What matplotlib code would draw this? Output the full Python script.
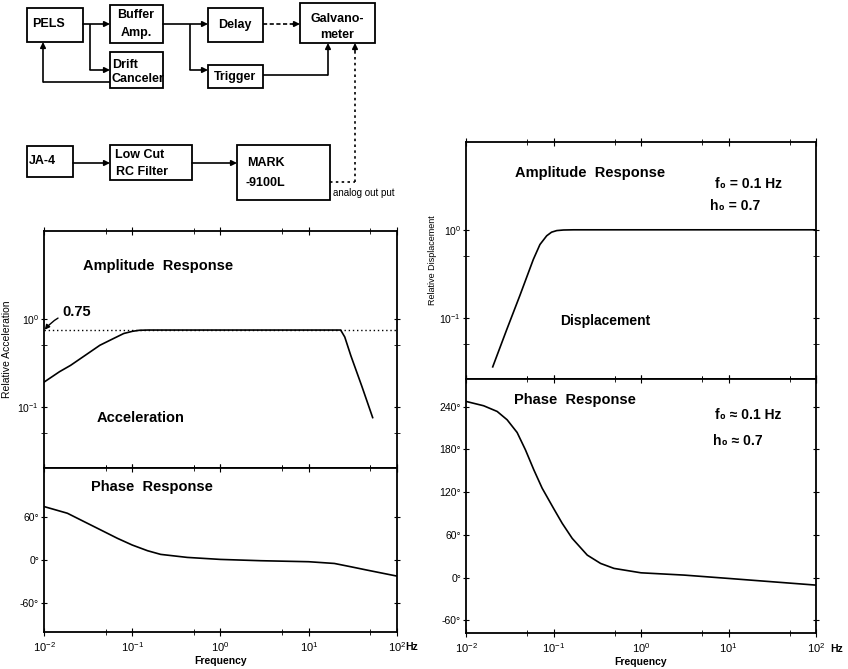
# Recording system block diagram + acceleration / displacement response curves

import numpy as np
import matplotlib.pyplot as plt
from matplotlib.patches import Rectangle
from matplotlib.ticker import LogLocator, NullFormatter, FixedLocator, FuncFormatter

plt.rcParams['font.family'] = ['Liberation Sans', 'DejaVu Sans']
plt.rcParams['mathtext.fontset'] = 'custom'
plt.rcParams['mathtext.rm'] = 'Liberation Sans'
plt.rcParams['mathtext.it'] = 'Liberation Sans:italic'
plt.rcParams['mathtext.bf'] = 'Liberation Sans:bold'

# acceleration channel (left)
freq_acc = [0.01, 0.015, 0.02, 0.03, 0.043, 0.06, 0.08, 0.1, 0.12, 0.15, 0.2, 1, 10,
            23, 25.6, 30, 40, 53]
amp_acc = [0.19, 0.25, 0.295, 0.39, 0.5, 0.59, 0.68, 0.72, 0.74, 0.745, 0.745, 0.745, 0.745,
           0.745, 0.62, 0.38, 0.17, 0.075]
ref_level = 0.75
freq_ph_acc = [0.01, 0.0184, 0.0284, 0.0439, 0.068, 0.1, 0.149, 0.21, 0.42, 1.0, 2.87,
               10, 19.5, 30, 46, 100]
phase_acc = [74.4, 65.1, 53.5, 41.9, 30.2, 20.9, 13.0, 7.9, 3.7, 0.9, -0.9,
             -2.3, -4.7, -9.3, -14, -22.3]

# displacement channel (right)
freq_disp = [0.0202, 0.0292, 0.0414, 0.0588, 0.070, 0.0836, 0.095, 0.109, 0.13, 0.169,
             1, 10, 100]
amp_disp = [0.0275, 0.073, 0.18, 0.46, 0.68, 0.855, 0.94, 0.98, 0.995, 1.0,
            1.0, 1.0, 1.0]
freq_ph_disp = [0.01, 0.0159, 0.0227, 0.0295, 0.0384, 0.0478, 0.0596, 0.0742, 0.1, 0.1257,
                0.1636, 0.243, 0.345, 0.491, 1.0, 3.1, 10, 100]
phase_disp = [247.5, 241.4, 233.4, 221.7, 203.8, 179.4, 151.3, 125.5, 97.3, 76.2,
              55, 31.5, 19.8, 12.8, 6.6, 3.4, -1.3, -10.7]

W, H = 848, 669
fig = plt.figure(figsize=(W / 100, H / 100), dpi=100)

def box_axes(x0, y0, x1, y1):
    # pixel box (image coords) -> figure axes
    return fig.add_axes([x0 / W, 1 - y1 / H, (x1 - x0) / W, (y1 - y0) / H])

def style_x(ax, labels):
    ax.set_xscale('log')
    ax.set_xlim(0.01, 100)
    ax.xaxis.set_major_locator(LogLocator(base=10, numticks=10))
    ax.xaxis.set_minor_locator(LogLocator(base=10, subs=[5], numticks=10))
    ax.xaxis.set_minor_formatter(NullFormatter())
    ax.tick_params(axis='x', which='both', direction='inout', top=True, bottom=True,
                   labelbottom=labels, labelsize=8, pad=3)
    ax.tick_params(axis='x', which='major', length=6)
    ax.tick_params(axis='x', which='minor', length=4)

def style_y(ax):
    ax.tick_params(axis='y', which='both', direction='inout', left=True, right=True,
                   labelsize=7.5, pad=1)
    ax.tick_params(axis='y', which='major', length=5)
    ax.tick_params(axis='y', which='minor', length=4)

def style_amp(ax):
    ax.set_yscale('log')
    ax.set_ylim(0.02, 10)
    ax.yaxis.set_major_locator(FixedLocator([0.1, 1]))
    ax.yaxis.set_minor_locator(FixedLocator([0.05, 0.5]))
    ax.yaxis.set_minor_formatter(NullFormatter())
    style_x(ax, False)
    style_y(ax)

deg = FuncFormatter(lambda v, p: f"{v:.0f}°")

# ---- left: acceleration
ax1 = box_axes(44, 231, 397, 468)
ax1.plot(freq_acc, amp_acc, color='k', lw=1.2)
ax1.axhline(ref_level, color='k', lw=1, ls=(0, (1, 2)))
style_amp(ax1)
ax1.set_ylabel('Relative Acceleration', fontsize=7.5, labelpad=2)
ax1.yaxis.set_label_coords(-0.092, 0.5)
ax1.text(0.028, 4.0, 'Amplitude  Response', fontsize=10.5, fontweight='bold', va='center')
ax1.text(0.04, 0.075, 'Acceleration', fontsize=10.5, fontweight='bold', va='center')
ax1.annotate('0.75', xy=(0.0102, 0.75), xytext=(0.016, 1.2), fontsize=10.5, fontweight='bold',
             va='center', ha='left',
             arrowprops=dict(arrowstyle='-|>', color='k', lw=1, mutation_scale=7,
                             shrinkA=1, shrinkB=0, connectionstyle='arc3,rad=0.2'))

ax2 = box_axes(44, 468, 397, 632)
ax2.plot(freq_ph_acc, phase_acc, color='k', lw=1.2)
ax2.set_ylim(-100, 128)
ax2.yaxis.set_major_locator(FixedLocator([-60, 0, 60]))
ax2.yaxis.set_major_formatter(deg)
style_x(ax2, True)
style_y(ax2)
ax2.text(0.034, 102, 'Phase  Response', fontsize=10.5, fontweight='bold', va='center')
ax2.set_xlabel('Frequency', fontsize=7.5, fontweight='bold', labelpad=1)
fig.text(405 / W, 1 - 647 / H, 'Hz', fontsize=7.5, fontweight='bold', va='center')

# ---- right: displacement
ax3 = box_axes(466, 142, 816, 379)
ax3.plot(freq_disp, amp_disp, color='k', lw=1.2)
style_amp(ax3)
ax3.set_ylabel('Relative Displacement', fontsize=6.5)
ax3.yaxis.set_label_coords(-0.083, 0.5)
ax3.text(0.036, 4.4, 'Amplitude  Response', fontsize=10.5, fontweight='bold', va='center')
ax3.text(7.0, 3.3, 'f₀ = 0.1 Hz', fontsize=10, fontweight='bold', va='center')
ax3.text(6.2, 1.85, 'h₀ = 0.7', fontsize=10, fontweight='bold', va='center')
ax3.text(0.12, 0.092, 'Displacement', fontsize=10, fontweight='bold', va='center')

ax4 = box_axes(466, 379, 816, 633)
ax4.plot(freq_ph_disp, phase_disp, color='k', lw=1.2)
ax4.set_ylim(-78, 279)
ax4.yaxis.set_major_locator(FixedLocator([-60, 0, 60, 120, 180, 240]))
ax4.yaxis.set_major_formatter(deg)
style_x(ax4, True)
style_y(ax4)
ax4.text(0.035, 249, 'Phase  Response', fontsize=10.5, fontweight='bold', va='center')
ax4.text(7.0, 228, 'f₀ ≈ 0.1 Hz', fontsize=10, fontweight='bold', va='center')
ax4.text(6.7, 192, 'h₀ ≈ 0.7', fontsize=10, fontweight='bold', va='center')
ax4.set_xlabel('Frequency', fontsize=7.5, fontweight='bold', labelpad=1)
fig.text(830 / W, 1 - 649 / H, 'Hz', fontsize=7.5, fontweight='bold', va='center')

for ax in (ax1, ax2, ax3, ax4):
    for s in ax.spines.values():
        s.set_linewidth(1.3)

# ---- block diagram, drawn in pixel coordinates
dg = fig.add_axes([0, 0, 1, 1], zorder=-1)
dg.set_xlim(0, W)
dg.set_ylim(H, 0)
dg.axis('off')

boxes = [
    (27, 8, 83, 42), (110, 5, 163, 43), (110, 52, 163, 88),
    (208, 8, 263, 42), (208, 65, 263, 88), (300, 3, 375, 43),
    (27, 146, 73, 177), (110, 145, 192, 180), (237, 145, 330, 200),
]
for x0, y0, x1, y1 in boxes:
    dg.add_patch(Rectangle((x0, y0), x1 - x0, y1 - y0, fill=False, ec='k', lw=1.3))

bt = dict(fontsize=9, fontweight='bold', va='center')
dg.text(32, 24, 'PELS', **bt)
dg.text(136, 15, 'Buffer', ha='center', **bt)
dg.text(136, 33, 'Amp.', ha='center', **bt)
dg.text(112, 65, 'Drift', **bt)
dg.text(112, 79, 'Canceler', **bt)
dg.text(235, 25, 'Delay', ha='center', **bt)
dg.text(235, 77, 'Trigger', ha='center', **bt)
dg.text(337, 19, 'Galvano-', ha='center', **bt)
dg.text(337, 35, 'meter', ha='center', **bt)
dg.text(29, 161, 'JA-4', **bt)
dg.text(115, 155, 'Low Cut', **bt)
dg.text(116, 172, 'RC Filter', **bt)
dg.text(247, 163, 'MARK', **bt)
dg.text(245, 183, '-9100L', **bt)
dg.text(333, 193, 'analog out put', fontsize=7, va='center')

def arrow(p0, p1, ls='-'):
    dg.annotate('', xy=p1, xytext=p0,
                arrowprops=dict(arrowstyle='-|>', color='k', lw=1.2, ls=ls,
                                mutation_scale=8, shrinkA=0, shrinkB=0))

def line(xs, ys, ls='-'):
    dg.plot(xs, ys, color='k', lw=1.2, ls=ls, solid_capstyle='butt')

arrow((83, 24), (110, 24))
line([90, 90], [24, 70])
arrow((90, 70), (110, 70))
line([110, 43], [82, 82])
arrow((43, 82), (43, 42))
arrow((163, 24), (208, 24))
line([190, 190], [24, 70])
arrow((190, 70), (208, 70))
line([263, 294], [24, 24], ls=(0, (2.5, 1.5)))
arrow((293, 24), (300, 24))
line([263, 328], [75, 75])
arrow((328, 75), (328, 43))
arrow((73, 163), (110, 163))
arrow((192, 163), (237, 163))
line([330, 355], [182, 182], ls=(0, (1.5, 2)))
line([355, 355], [182, 50], ls=(0, (1.5, 2)))
arrow((355, 51), (355, 43))

fig.savefig('out.png', dpi=100)
